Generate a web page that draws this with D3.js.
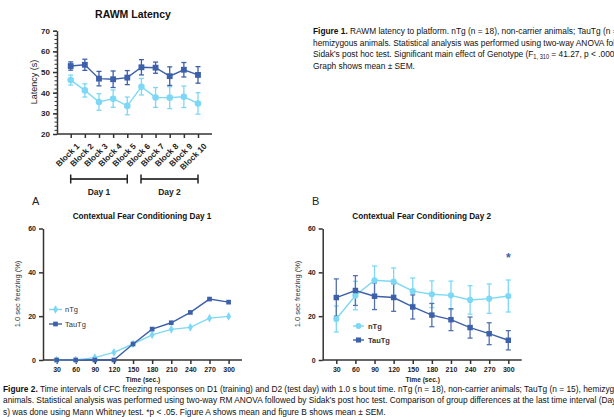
<!DOCTYPE html>
<html>
<head>
<meta charset="utf-8">
<script src="https://cdn.jsdelivr.net/npm/d3@7"></script>
<style>
body { margin: 0; background: #fff; }
svg { font-family: "Liberation Sans", Arial, sans-serif; }
.cap { font-family: "Liberation Sans", Arial, sans-serif; font-size: 9.6px; fill: #111; }
.tick text { font-weight: bold; }
</style>
</head>
<body>
<div id="chart"></div>
<script>
// figure 1 data
const blocks = ['Block 1', 'Block 2', 'Block 3', 'Block 4', 'Block 5', 'Block 6', 'Block 7', 'Block 8', 'Block 9', 'Block 10'];
const rawm_tau = [52.9, 53.5, 46.8, 46.5, 47.3, 52.3, 52.1, 48.0, 51.1, 48.6];
const rawm_tau_sem = [2.0, 2.7, 3.5, 4.0, 3.4, 3.7, 2.7, 4.5, 3.5, 4.0];
const rawm_ntg = [46.1, 41.1, 35.5, 37.1, 33.6, 42.9, 37.7, 37.6, 38.0, 34.8];
const rawm_ntg_sem = [2.4, 3.2, 4.0, 4.2, 4.3, 4.0, 4.8, 5.3, 5.2, 5.2];

// figure 2 data
const times = [30, 60, 90, 120, 150, 180, 210, 240, 270, 300];
const d1_ntg = [0, 0, 1.1, 3.5, 7.3, 11.5, 14.0, 14.9, 19.1, 19.9];
const d1_tau = [0, 0, 0, 0, 7.3, 14.1, 17.0, 21.7, 27.8, 26.4];
const d2_ntg = [18.7, 29.4, 36.4, 35.8, 31.4, 30.0, 29.5, 27.4, 28.0, 29.2];
const d2_ntg_sem = [5.9, 6.5, 6.5, 6.2, 6.0, 6.1, 6.5, 6.5, 6.7, 7.3];
const d2_tau = [28.5, 31.7, 29.1, 28.5, 24.2, 20.5, 18.4, 14.8, 12.0, 9.0];
const d2_tau_sem = [8.5, 6.8, 6.1, 6.3, 5.5, 5.3, 5.0, 4.8, 5.0, 4.4];

const dark = '#3d60aa';
const light = '#7dd8f6';
const axis_col = '#333';

const svg = d3.select('#chart').append('svg')
    .attr('width', 614)
    .attr('height', 417);

function style_axis(g)
{
    g.selectAll('path, line').attr('stroke', axis_col).attr('stroke-width', 1.5);
    g.selectAll('text').attr('fill', '#222');
}

function error_bars(g, xs, ys, vals, sems, y, color, cap)
{
    vals.forEach(function (v, i)
    {
        let x = xs(ys[i]);
        let top = y(v + sems[i]);
        let bot = y(v - sems[i]);
        g.append('line').attr('x1', x).attr('x2', x).attr('y1', top).attr('y2', bot)
            .attr('stroke', color).attr('stroke-width', 1.3);
        [top, bot].forEach(function (yy)
        {
            g.append('line').attr('x1', x - cap).attr('x2', x + cap).attr('y1', yy).attr('y2', yy)
                .attr('stroke', color).attr('stroke-width', 1.3);
        });
    });
}

function series(g, keys, xs, vals, y, color, symbol, size)
{
    let line = d3.line()
        .x(function (d, i) { return xs(keys[i]); })
        .y(function (d) { return y(d); });
    g.append('path').datum(vals)
        .attr('d', line)
        .attr('fill', 'none')
        .attr('stroke', color)
        .attr('stroke-width', 1.4);
    g.selectAll(null).data(vals).enter().append('path')
        .attr('transform', function (d, i) { return 'translate(' + xs(keys[i]) + ',' + y(d) + ')'; })
        .attr('d', d3.symbol().type(symbol).size(size))
        .attr('fill', color);
}

// ---------- Figure 1 : RAWM latency
{
    let g = svg.append('g');
    let x = d3.scalePoint().domain(blocks).range([70.7, 198]);
    let y = d3.scaleLinear().domain([20, 70]).range([134, 30.7]);

    g.append('text').attr('x', 133).attr('y', 18).attr('text-anchor', 'middle')
        .attr('font-size', '10.5px').attr('font-weight', 'bold').attr('fill', '#111')
        .text('RAWM Latency');

    // minor ticks
    g.append('g').attr('transform', 'translate(57,0)')
        .call(d3.axisLeft(y).tickValues(d3.range(20, 71, 2)).tickSize(2.5).tickFormat(''))
        .call(style_axis)
        .call(function (a) { a.select('.domain').remove(); a.selectAll('line').attr('stroke-width', 1); });

    g.append('g').attr('transform', 'translate(57,0)')
        .call(d3.axisLeft(y).tickValues([20, 30, 40, 50, 60, 70]).tickSize(4).tickSizeOuter(0))
        .call(style_axis)
        .call(function (a) { a.selectAll('text').attr('font-size', '8px'); });

    let xa = g.append('g').attr('transform', 'translate(0,134)')
        .call(d3.axisBottom(x).tickSize(4).tickSizeOuter(0))
        .call(style_axis);
    xa.select('.domain').attr('d', 'M57,0H212');
    xa.selectAll('text')
        .attr('font-size', '8.2px')
        .attr('text-anchor', 'end')
        .attr('dy', '0.3em')
        .attr('transform', 'translate(2,6) rotate(-45)');

    g.append('text').attr('transform', 'translate(37,82) rotate(-90)')
        .attr('text-anchor', 'middle').attr('font-size', '9px').attr('fill', '#222')
        .text('Latency (s)');

    error_bars(g, x, blocks, rawm_ntg, rawm_ntg_sem, y, light, 2.5);
    series(g, blocks, x, rawm_ntg, y, light, d3.symbolCircle, 34);
    error_bars(g, x, blocks, rawm_tau, rawm_tau_sem, y, dark, 2.5);
    series(g, blocks, x, rawm_tau, y, dark, d3.symbolSquare, 34);

    // day brackets
    [[blocks[0], blocks[4], 'Day 1'], [blocks[5], blocks[9], 'Day 2']].forEach(function (d)
    {
        let x1 = x(d[1]);
        let x0 = d[2] === 'Day 2' ? 141 : x(d[0]);
        g.append('line').attr('x1', x0).attr('x2', x1).attr('y1', 179).attr('y2', 179)
            .attr('stroke', '#444').attr('stroke-width', 2);
        [x0, x1].forEach(function (xx)
        {
            g.append('line').attr('x1', xx).attr('x2', xx).attr('y1', 174.5).attr('y2', 183.5)
                .attr('stroke', '#222').attr('stroke-width', 1.5);
        });
        g.append('text').attr('x', (x0 + x1) / 2).attr('y', 195).attr('text-anchor', 'middle')
            .attr('font-size', '8.5px').attr('font-weight', 'bold').attr('fill', '#222')
            .text(d[2]);
    });
}

// caption text, squeezed horizontally like the narrow font of the original
function caption(x, y, html, sx)
{
    svg.append('text').attr('class', 'cap')
        .attr('transform', 'translate(' + x + ',' + y + ') scale(' + sx + ',1)')
        .html(html);
}

// caption figure 1
{
    let lines = [
        '<tspan font-weight="bold">Figure 1.</tspan> RAWM latency to platform. nTg (n = 18), non-carrier animals; TauTg (n = 15),',
        'hemizygous animals. Statistical analysis was performed using two-way ANOVA followed by',
        'Sidak\u2019s post hoc test. Significant main effect of Genotype (F<tspan font-size="6.5px" dy="2">1, 310</tspan><tspan dy="-2"> = 41.27, p &lt; .0001).</tspan>',
        'Graph shows mean \u00b1 SEM.'
    ];
    lines.forEach(function (l, i) { caption(313, 34 + i * 11.6, l, 0.87); });
    svg.append('text').attr('x', 32).attr('y', 205).attr('font-size', '11px').attr('fill', '#222').text('A');
    svg.append('text').attr('x', 312).attr('y', 205).attr('font-size', '11px').attr('fill', '#222').text('B');
}

// ---------- Figure 2 panels
function cfc_panel(ox, title)
{
    let g = svg.append('g');
    let x = d3.scalePoint().domain(times).range([ox + 13.6, ox + 185.6]);
    let y = d3.scaleLinear().domain([0, 60]).range([360, 228.5]);

    g.append('text').attr('x', ox + 99).attr('y', 219).attr('text-anchor', 'middle')
        .attr('font-size', '8.2px').attr('font-weight', 'bold').attr('fill', '#111')
        .text(title);

    g.append('g').attr('transform', 'translate(' + ox + ',0)')
        .call(d3.axisLeft(y).tickValues([0, 20, 40, 60]).tickSize(4).tickSizeOuter(0))
        .call(style_axis)
        .call(function (a) { a.selectAll('text').attr('font-size', '7px'); });

    let xa = g.append('g').attr('transform', 'translate(0,360)')
        .call(d3.axisBottom(x).tickSize(4).tickSizeOuter(0))
        .call(style_axis);
    xa.select('.domain').attr('d', 'M' + ox + ',0H' + (ox + 199));
    xa.selectAll('text').attr('font-size', '7px');

    g.append('text').attr('x', ox + 100).attr('y', 382).attr('text-anchor', 'middle')
        .attr('font-size', '6.6px').attr('font-weight', 'bold').attr('fill', '#222')
        .text('Time (sec.)');

    g.append('text').attr('transform', 'translate(' + (ox - 23) + ',294) rotate(-90)')
        .attr('text-anchor', 'middle').attr('font-size', '7.5px').attr('fill', '#333')
        .text('1.0 sec freezing (%)');

    return { g: g, x: x, y: y };
}

{
    let p = cfc_panel(43, 'Contextual Fear Conditioning Day 1');
    series(p.g, times, p.x, d1_ntg, p.y, light, d3.symbolDiamond, 22);
    series(p.g, times, p.x, d1_tau, p.y, dark, d3.symbolSquare, 22);

    let legend = [['nTg', light, d3.symbolDiamond, 309.5], ['TauTg', dark, d3.symbolSquare, 324]];
    legend.forEach(function (d)
    {
        p.g.append('line').attr('x1', 49).attr('x2', 62).attr('y1', d[3]).attr('y2', d[3])
            .attr('stroke', d[1]).attr('stroke-width', 1.4);
        p.g.append('path').attr('transform', 'translate(55.5,' + d[3] + ')')
            .attr('d', d3.symbol().type(d[2]).size(22)).attr('fill', d[1]);
        p.g.append('text').attr('x', 65).attr('y', d[3] + 2.8).attr('font-size', '7.5px').attr('fill', '#333').text(d[0]);
    });
}

{
    let p = cfc_panel(322.7, 'Contextual Fear Conditioning Day 2');
    error_bars(p.g, p.x, times, d2_ntg, d2_ntg_sem, p.y, light, 2.5);
    error_bars(p.g, p.x, times, d2_tau, d2_tau_sem, p.y, '#5471ad', 2.5);
    series(p.g, times, p.x, d2_ntg, p.y, light, d3.symbolCircle, 30);
    series(p.g, times, p.x, d2_tau, p.y, dark, d3.symbolSquare, 30);

    p.g.append('text').attr('x', p.x(300)).attr('y', p.y(46.9) + 5).attr('text-anchor', 'middle')
        .attr('font-size', '12px').attr('font-weight', 'bold').attr('fill', dark).text('*');

    let legend = [['nTg', light, d3.symbolCircle, 326], ['TauTg', dark, d3.symbolSquare, 340]];
    legend.forEach(function (d)
    {
        p.g.append('line').attr('x1', 353).attr('x2', 364).attr('y1', d[3]).attr('y2', d[3])
            .attr('stroke', d[1]).attr('stroke-width', 1.4);
        p.g.append('path').attr('transform', 'translate(358.5,' + d[3] + ')')
            .attr('d', d3.symbol().type(d[2]).size(26)).attr('fill', d[1]);
        p.g.append('text').attr('x', 368).attr('y', d[3] + 2.8).attr('font-size', '7.5px')
            .attr('font-weight', 'bold').attr('fill', '#333').text(d[0]);
    });
}

// caption figure 2
{
    let lines = [
        '<tspan font-weight="bold">Figure 2.</tspan> Time intervals of CFC freezing responses on D1 (training) and D2 (test day) with 1.0 s bout time. nTg (n = 18), non-carrier animals; TauTg (n = 15), hemizygous',
        'animals. Statistical analysis was performed using two-way RM ANOVA followed by Sidak\u2019s post hoc test. Comparison of group differences at the last time interval (Day 2, 300',
        's) was done using Mann Whitney test. *p &lt; .05. Figure A shows mean and figure B shows mean \u00b1 SEM.'
    ];
    lines.forEach(function (l, i) { caption(3, 392 + i * 11.3, l, 0.87); });
}
</script>
</body>
</html>
